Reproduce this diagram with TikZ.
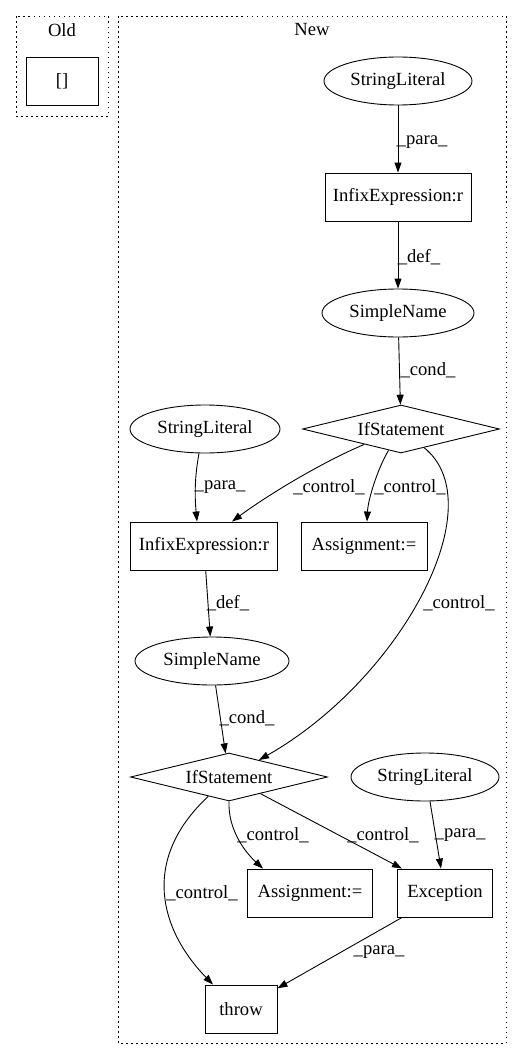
\documentclass[tikz,border=0pt]{standalone}
\usepackage{fontspec}
\setmainfont{Liberation Serif}
\usetikzlibrary{shapes.geometric,arrows.meta}
\begin{document}
\begin{tikzpicture}[x=1pt,y=-1pt,
  every node/.style={font=\fontsize{18.6}{22}\selectfont},
  box/.style={draw,line width=0.9pt,rectangle,inner sep=0pt,minimum height=48pt},
  oval/.style={draw,line width=0.9pt,ellipse,inner sep=0pt,minimum height=48pt},
  dia/.style={draw,line width=0.9pt,diamond,aspect=4.1,inner sep=0pt,minimum width=197pt,minimum height=48pt},
  arr/.style={line width=0.9pt,-{Triangle[length=10pt,width=7pt]}},
  lbl/.style={inner sep=0pt},
  clus/.style={line width=0.9pt,dash pattern=on 1.5pt off 3.5pt}]
\useasboundingbox (0,0) rectangle (527,1060);
% clusters
\draw[clus] (16,16) rectangle (108,116);
\node (oldlbl) at (62,30) {Old};
\draw[clus] (118,16) rectangle (506,1043);
\node (newlbl) at (312,30) {New};
% nodes
\node[box,minimum width=72pt] (old) at (62,81) {[]};
\node[oval,minimum width=148pt] (sl1) at (398,81) {StringLiteral};
\node[box,minimum width=146pt] (infix1) at (398,197) {InfixExpression:r};
\node[oval,minimum width=152pt] (sn1) at (398,313) {SimpleName};
\node[dia] (if1) at (401,429) {IfStatement};
\node[oval,minimum width=150pt] (sl2) at (205,429) {StringLiteral};
\node[box,minimum width=147pt] (infix2) at (204,546) {InfixExpression:r};
\node[box,minimum width=126pt] (assign1) at (364,546) {Assignment:=};
\node[oval,minimum width=154pt] (sn2) at (212,661) {SimpleName};
\node[dia] (if2) at (229,777) {IfStatement};
\node[oval,minimum width=148pt] (sl3) at (425,777) {StringLiteral};
\node[box,minimum width=125pt] (assign2) at (310,893) {Assignment:=};
\node[box,minimum width=95pt] (exc) at (445,893) {Exception};
\node[box,minimum width=72pt] (throw) at (241,1009) {throw};
% edges
\draw[arr] (sl1) -- (infix1);
\node[lbl] (l1) at (422,142) {\_para\_};
\draw[arr] (infix1) -- (sn1);
\node[lbl] (l2) at (419,257) {\_def\_};
\draw[arr] (sn1) -- (if1);
\node[lbl] (l3) at (428,370) {\_cond\_};
\draw[arr] ([xshift=-6pt]sl2.south) .. controls (194,480) and (195,500) .. ([xshift=-7pt]infix2.north);
\node[lbl] (l4) at (220,487) {\_para\_};
\draw[arr] (if1) .. controls (320,463) and (265,497) .. ([xshift=28pt]infix2.north);
\node[lbl] (l5) at (329,487) {\_control\_};
\draw[arr] (if1) .. controls (377,470) and (368,500) .. ([xshift=3pt]assign1.north);
\node[lbl] (l6) at (410,487) {\_control\_};
\draw[arr] (if1) .. controls (495,505) and (400,680) .. (if2);
\node[lbl] (l7) at (459,603) {\_control\_};
\draw[arr] (infix2) -- (sn2);
\node[lbl] (l8) at (228,603) {\_def\_};
\draw[arr] (sn2) -- (if2);
\node[lbl] (l9) at (247,718) {\_cond\_};
\draw[arr] (if2.south) .. controls (228,830) and (245,852) .. ([xshift=-47pt]assign2.north);
\node[lbl] (l10) at (273,835) {\_control\_};
\draw[arr] (if2) -- ([xshift=-43pt]exc.north);
\node[lbl] (l11) at (383,835) {\_control\_};
\draw[arr] ([xshift=5pt]sl3.south) -- ([xshift=-4pt]exc.north);
\node[lbl] (l12) at (460,835) {\_para\_};
\draw[arr] (if2) .. controls (140,860) and (160,930) .. ([xshift=-28pt]throw.north);
\node[lbl] (l13) at (202,893) {\_control\_};
\draw[arr] (exc) -- (throw);
\node[lbl] (l14) at (379,952) {\_para\_};
\end{tikzpicture}
\end{document}
